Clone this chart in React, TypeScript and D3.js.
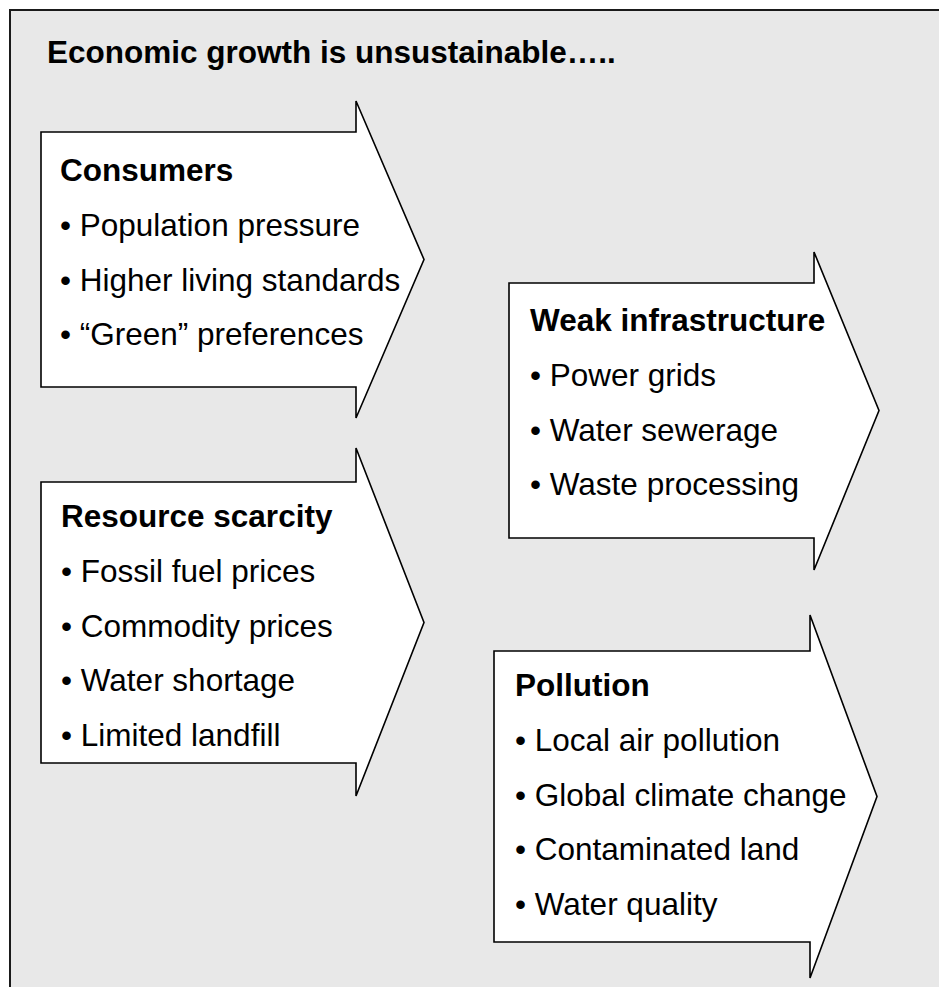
import React, { useEffect, useRef } from 'react';
import * as d3 from 'd3';

const title = "Economic growth is unsustainable…..";

const headers = ["Consumers", "Weak infrastructure", "Resource scarcity", "Pollution"];

const consumerItems = ["Population pressure", "Higher living standards", "“Green” preferences"];
const infraItems = ["Power grids", "Water sewerage", "Waste processing"];
const resourceItems = ["Fossil fuel prices", "Commodity prices", "Water shortage", "Limited landfill"];
const pollutionItems = ["Local air pollution", "Global climate change", "Contaminated land", "Water quality"];

const itemLists = [consumerItems, infraItems, resourceItems, pollutionItems];

// arrow layout: body box, head, tip, text anchor
const arrowLayout = [
    { left: 41, top: 132, bottom: 387, shaft: 356, headTop: 101, headBottom: 418, tip: 424, tx: 60, ty: 181 },
    { left: 509, top: 283, bottom: 538, shaft: 814, headTop: 252, headBottom: 570, tip: 879, tx: 530, ty: 331 },
    { left: 41, top: 482, bottom: 763, shaft: 356, headTop: 448, headBottom: 796, tip: 424, tx: 61, ty: 527 },
    { left: 494, top: 651, bottom: 942, shaft: 810, headTop: 615, headBottom: 978, tip: 877, tx: 515, ty: 696 },
];

const W = 939;
const H = 987;
const FONT = "'Liberation Sans', Arial, Helvetica, sans-serif";
const FS = 31.5;
const LINE = 54.8;

const App = () => {
    const ref = useRef(null);

    useEffect(() => {
        const svg = d3.select(ref.current);
        svg.selectAll("*").remove();

        svg.append("rect")
            .attr("width", W)
            .attr("height", H)
            .attr("fill", "#ffffff");

        // background panel, runs off the right and bottom edges
        svg.append("rect")
            .attr("x", 10)
            .attr("y", 10)
            .attr("width", W + 20)
            .attr("height", H + 20)
            .attr("fill", "#e8e8e8")
            .attr("stroke", "#1a1a1a")
            .attr("stroke-width", 2);

        svg.append("text")
            .attr("x", 47)
            .attr("y", 63)
            .attr("font-family", FONT)
            .attr("font-size", FS)
            .attr("font-weight", "bold")
            .attr("fill", "#000")
            .text(title);

        const line = d3.line();

        arrowLayout.forEach((a, i) => {
            const mid = (a.top + a.bottom) / 2;
            const pts: [number, number][] = [
                [a.left, a.top],
                [a.shaft, a.top],
                [a.shaft, a.headTop],
                [a.tip, mid],
                [a.shaft, a.headBottom],
                [a.shaft, a.bottom],
                [a.left, a.bottom],
            ];

            const g = svg.append("g");

            g.append("path")
                .attr("d", line(pts) + "Z")
                .attr("fill", "#ffffff")
                .attr("stroke", "#000")
                .attr("stroke-width", 1.6)
                .attr("stroke-linejoin", "miter");

            g.append("text")
                .attr("x", a.tx)
                .attr("y", a.ty)
                .attr("font-family", FONT)
                .attr("font-size", FS)
                .attr("font-weight", "bold")
                .attr("fill", "#000")
                .text(headers[i]);

            g.selectAll("text.item")
                .data(itemLists[i])
                .enter().append("text")
                .attr("class", "item")
                .attr("x", a.tx)
                .attr("y", (d, j) => a.ty + (j + 1) * LINE)
                .attr("font-family", FONT)
                .attr("font-size", FS)
                .attr("fill", "#000")
                .text(d => "• " + d);
        });
    }, []);

    return (
        <svg
            ref={ref}
            width={W}
            height={H}
            style={{ position: 'absolute', left: 0, top: 0, display: 'block' }}
        />
    );
};

export default App;
